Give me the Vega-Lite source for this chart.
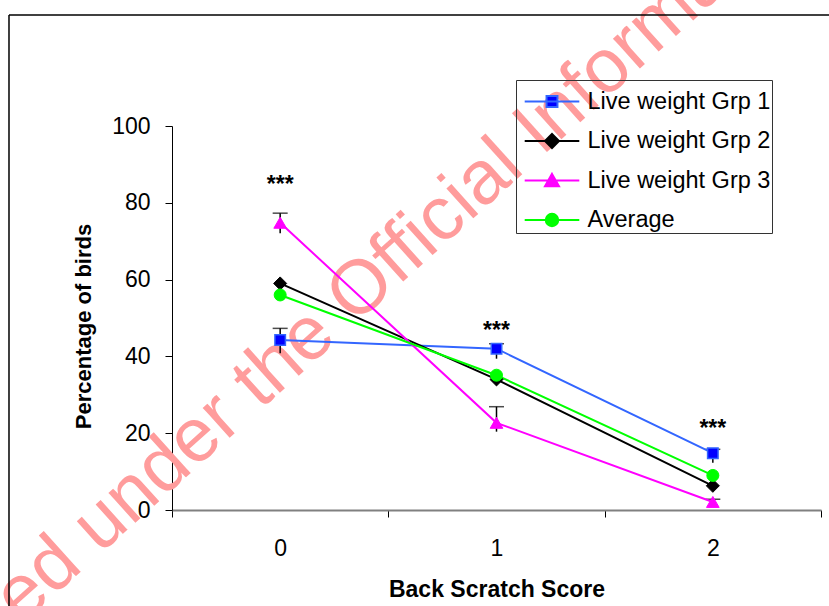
{
  "$schema": "https://vega.github.io/schema/vega-lite/v6.json",
  "width": 649,
  "height": 384,
  "autosize": {"type": "none"},
  "padding": {"left": 172, "top": 126, "right": 8, "bottom": 96},
  "background": "white",
  "config": {
    "view": {"stroke": null},
    "font": "Liberation Sans",
    "axis": {"grid": false, "labelColor": "black", "titleColor": "black", "labelFont": "Liberation Sans", "titleFont": "Liberation Sans"},
    "legend": {"symbolOpacity": 1}
  },
  "datasets": {
    "scores": [
      {"score": 0, "series": "Live weight Grp 1", "value": 44.3, "lower": 40.8, "upper": 47.3},
      {"score": 1, "series": "Live weight Grp 1", "value": 42.0, "lower": 39.4, "upper": 43.3},
      {"score": 2, "series": "Live weight Grp 1", "value": 14.8, "lower": 12.3, "upper": 15.8},
      {"score": 0, "series": "Live weight Grp 2", "value": 59.0},
      {"score": 1, "series": "Live weight Grp 2", "value": 34.0},
      {"score": 2, "series": "Live weight Grp 2", "value": 6.3},
      {"score": 0, "series": "Live weight Grp 3", "value": 74.8, "lower": 72.1, "upper": 77.3},
      {"score": 1, "series": "Live weight Grp 3", "value": 22.7, "lower": 20.4, "upper": 26.9},
      {"score": 2, "series": "Live weight Grp 3", "value": 2.1, "lower": 1.5, "upper": 2.8},
      {"score": 0, "series": "Average", "value": 56.0},
      {"score": 1, "series": "Average", "value": 35.1},
      {"score": 2, "series": "Average", "value": 9.0}
    ],
    "significance": [
      {"score": 0, "mark": "***", "at": 86.0},
      {"score": 1, "mark": "***", "at": 48.0},
      {"score": 2, "mark": "***", "at": 22.4}
    ]
  },
  "layer": [
    {
      "data": {"values": [{}]},
      "mark": {"type": "text", "text": "Released under the Official Information Act", "font": "Liberation Sans", "fontSize": 76, "color": "#ff9c9c", "angle": 318, "align": "center", "baseline": "middle", "clip": false},
      "encoding": {
        "x": {"datum": 0.4, "type": "quantitative"},
        "y": {"datum": 59.0, "type": "quantitative"}
      }
    },
    {
      "data": {"values": [{}]},
      "mark": {"type": "rule", "color": "black", "strokeWidth": 1.5, "clip": false},
      "encoding": {
        "x": {"datum": -1.2535, "type": "quantitative"},
        "x2": {"datum": 2.7},
        "y": {"datum": 128.9, "type": "quantitative"}
      }
    },
    {
      "data": {"values": [{}]},
      "mark": {"type": "rule", "color": "black", "strokeWidth": 1.5, "clip": false},
      "encoding": {
        "x": {"datum": -1.2535, "type": "quantitative"},
        "y": {"datum": 128.9, "type": "quantitative"},
        "y2": {"datum": -30}
      }
    },
    {
      "data": {"name": "scores"},
      "transform": [{"filter": "isValid(datum.upper)"}],
      "mark": {"type": "rule", "color": "black", "strokeWidth": 1.5},
      "encoding": {
        "x": {"field": "score", "type": "quantitative"},
        "y": {"field": "lower", "type": "quantitative"},
        "y2": {"field": "upper"}
      }
    },
    {
      "data": {"name": "scores"},
      "transform": [{"filter": "isValid(datum.upper)"}],
      "mark": {"type": "tick", "color": "black", "orient": "horizontal", "size": 15, "thickness": 1.5},
      "encoding": {
        "x": {"field": "score", "type": "quantitative"},
        "y": {"field": "upper", "type": "quantitative"}
      }
    },
    {
      "data": {"name": "scores"},
      "mark": {"type": "line", "strokeWidth": 2},
      "encoding": {
        "x": {
          "field": "score",
          "type": "quantitative",
          "scale": {"domain": [-0.5, 2.5], "nice": false, "zero": false},
          "axis": {
            "values": [-0.5, 0, 0.5, 1, 1.5, 2, 2.5],
            "labelExpr": "datum.value % 1 === 0 ? format(datum.value, 'd') : ''",
            "tickOpacity": {"condition": {"test": "datum.value % 1 !== 0", "value": 1}, "value": 0},
            "tickSize": 7,
            "tickColor": "black",
            "labelPadding": 20,
            "labelFontSize": 23,
            "labelOverlap": false,
            "domainColor": "#808080",
            "domainWidth": 2,
            "title": "Back Scratch Score",
            "titleFontSize": 23,
            "titleFontWeight": "bold",
            "titlePadding": 18
          }
        },
        "y": {
          "field": "value",
          "type": "quantitative",
          "scale": {"domain": [0, 100], "nice": false},
          "axis": {
            "values": [0, 20, 40, 60, 80, 100],
            "tickSize": 7,
            "tickColor": "black",
            "domainColor": "black",
            "labelPadding": 15,
            "labelFontSize": 23,
            "title": "Percentage of birds",
            "titleFontSize": 22,
            "titleFontWeight": "bold",
            "titlePadding": 16,
            "titleY": 200
          }
        },
        "stroke": {
          "field": "series",
          "type": "nominal",
          "scale": {
            "domain": ["Live weight Grp 1", "Live weight Grp 2", "Live weight Grp 3", "Average"],
            "range": ["#3366ff", "#000000", "#ff00ff", "#00ff00"]
          }
        }
      }
    },
    {
      "data": {"name": "scores"},
      "transform": [{"filter": "datum.series === 'Live weight Grp 1'"}],
      "mark": {"type": "point", "shape": "square", "size": 110, "filled": true, "fill": "#0000ff", "stroke": "#3366ff", "strokeWidth": 1.5, "opacity": 1},
      "encoding": {
        "x": {"field": "score", "type": "quantitative"},
        "y": {"field": "value", "type": "quantitative"}
      }
    },
    {
      "data": {"name": "scores"},
      "transform": [{"filter": "datum.series === 'Live weight Grp 2'"}],
      "mark": {"type": "point", "shape": "diamond", "size": 170, "filled": true, "fill": "#000000", "stroke": "#000000", "strokeWidth": 1, "opacity": 1},
      "encoding": {
        "x": {"field": "score", "type": "quantitative"},
        "y": {"field": "value", "type": "quantitative"}
      }
    },
    {
      "data": {"name": "scores"},
      "transform": [{"filter": "datum.series === 'Live weight Grp 3'"}],
      "mark": {"type": "point", "shape": "triangle-up", "size": 160, "filled": true, "fill": "#ff00ff", "stroke": "#ff00ff", "strokeWidth": 1, "opacity": 1},
      "encoding": {
        "x": {"field": "score", "type": "quantitative"},
        "y": {"field": "value", "type": "quantitative"}
      }
    },
    {
      "data": {"name": "scores"},
      "transform": [{"filter": "datum.series === 'Average'"}],
      "mark": {"type": "point", "shape": "circle", "size": 144, "filled": true, "fill": "#00ff00", "stroke": "#00ff00", "strokeWidth": 1, "opacity": 1},
      "encoding": {
        "x": {"field": "score", "type": "quantitative"},
        "y": {"field": "value", "type": "quantitative"}
      }
    },
    {
      "data": {"name": "scores"},
      "mark": {"type": "point", "filled": true, "opacity": 0, "size": 1521, "strokeWidth": 2},
      "encoding": {
        "x": {"field": "score", "type": "quantitative"},
        "y": {"field": "value", "type": "quantitative"},
        "stroke": {"field": "series", "type": "nominal"},
        "fill": {
          "field": "series",
          "type": "nominal",
          "scale": {
            "domain": ["Live weight Grp 1", "Live weight Grp 2", "Live weight Grp 3", "Average"],
            "range": ["#0000ff", "#000000", "#ff00ff", "#00ff00"]
          }
        },
        "shape": {
          "field": "series",
          "type": "nominal",
          "scale": {
            "domain": ["Live weight Grp 1", "Live weight Grp 2", "Live weight Grp 3", "Average"],
            "range": [
              "M-1.4,0H1.4M-0.28,-0.28H0.28V0.28H-0.28Z",
              "M-1.4,0H1.4M0,-0.36L0.36,0L0,0.36L-0.36,0Z",
              "M-1.4,0H1.4M0,-0.34L0.36,0.3L-0.36,0.3Z",
              "M-1.4,0H1.4M0.32,0A0.32,0.32,0,1,1,-0.32,0A0.32,0.32,0,1,1,0.32,0Z"
            ]
          },
          "legend": {
            "title": null,
            "orient": "none",
            "legendX": 344,
            "legendY": -46,
            "strokeColor": "#333333",
            "padding": 1,
            "symbolSize": 1521,
            "symbolStrokeWidth": 2,
            "symbolOpacity": 1,
            "symbolOffset": 14.5,
            "labelFontSize": 23.5,
            "labelFont": "Liberation Sans",
            "labelColor": "black",
            "labelOffset": 15,
            "rowPadding": 7.5,
            "labelLimit": 300
          }
        }
      }
    },
    {
      "data": {"name": "significance"},
      "mark": {"type": "text", "font": "Liberation Sans", "fontSize": 23, "fontWeight": "bold", "color": "black", "baseline": "middle", "dy": 5},
      "encoding": {
        "x": {"field": "score", "type": "quantitative"},
        "y": {"field": "at", "type": "quantitative"},
        "text": {"field": "mark"}
      }
    }
  ]
}
